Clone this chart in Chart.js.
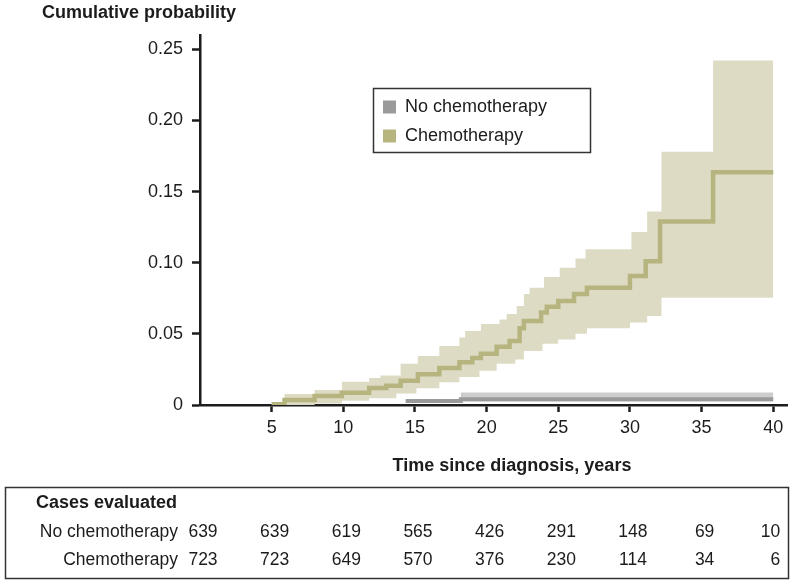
<!DOCTYPE html>
<html>
<head>
<meta charset="utf-8">
<script src="https://cdn.jsdelivr.net/npm/chart.js@4.4.1/dist/chart.umd.min.js"></script>
<style>
html, body { margin: 0; padding: 0; background: #fff; }
#wrap { position: relative; width: 792px; height: 584px; }
</style>
</head>
<body>
<div id="wrap"><canvas id="kmChart" width="792" height="584"></canvas></div>
<script>
// Chemotherapy: cumulative probability (step function) and 95% band
const chemoEstYears = [5.0, 5.9, 8.0, 9.9, 11.8, 13.0, 14.0, 15.2, 16.7, 18.1, 19.0, 19.6, 20.7, 21.6, 22.3, 22.6, 23.8, 24.2, 25.0, 26.1, 27.0, 30.0, 31.1, 32.1, 35.8, 40.0];
const chemoEst = [0.0005, 0.0035, 0.0063, 0.0086, 0.012, 0.0135, 0.017, 0.0216, 0.026, 0.030, 0.033, 0.036, 0.041, 0.045, 0.054, 0.059, 0.065, 0.069, 0.073, 0.078, 0.0824, 0.0906, 0.101, 0.129, 0.1636, 0.1636];

const chemoUpperYears = [5.0, 5.9, 8.0, 9.9, 11.8, 12.6, 14.0, 15.2, 16.7, 18.1, 18.5, 19.6, 20.9, 21.4, 22.1, 22.6, 23.0, 24.0, 25.1, 26.2, 26.9, 30.1, 31.2, 32.2, 35.8, 40.0];
const chemoUpper = [0.002, 0.0077, 0.0105, 0.0164, 0.019, 0.0207, 0.029, 0.0345, 0.0415, 0.0475, 0.052, 0.057, 0.060, 0.064, 0.0695, 0.078, 0.0824, 0.090, 0.0964, 0.103, 0.1095, 0.1215, 0.136, 0.178, 0.242, 0.242];

const chemoLowerYears = [5.0, 8.0, 9.9, 11.8, 13.7, 15.1, 16.7, 18.1, 19.5, 20.7, 22.0, 22.6, 23.9, 25.0, 26.2, 27.0, 30.0, 31.2, 32.2, 40.0];
const chemoLower = [0, 0.001, 0.003, 0.0047, 0.008, 0.0117, 0.016, 0.0197, 0.024, 0.029, 0.032, 0.038, 0.043, 0.046, 0.050, 0.054, 0.058, 0.0625, 0.0754, 0.0754];

// No chemotherapy
const noChemoYears = [14.35, 18.2, 40.0];
const noChemoEst = [0.0028, 0.0041, 0.0041];
const noChemoLower = [0.0015, 0.0025, 0.0025];
const noChemoUpper = [0.0035, 0.0088, 0.0088];

// Axes and table
const xTicks = [5, 10, 15, 20, 25, 30, 35, 40];
const yTicks = [0, 0.05, 0.10, 0.15, 0.20, 0.25];
const tableYears = [0, 5, 10, 15, 20, 25, 30, 35, 40];
const casesNoChemo = [639, 639, 619, 565, 426, 291, 148, 69, 10];
const casesChemo = [723, 723, 649, 570, 376, 230, 114, 34, 6];

const seriesNames = ['No chemotherapy', 'Chemotherapy'];

const toPoints = (xs, ys) => xs.map((x, i) => ({ x: x, y: ys[i] }));

const FONT = '"Liberation Sans", Arial, Helvetica, sans-serif';
const INK = '#1c1c1c';
const chemoLine = '#b7b57f';
const chemoBand = '#dedbc4';
const greyLine = '#9a9a9a';
const greyBand = '#cdcdcd';

Chart.defaults.font.family = FONT;
Chart.defaults.color = INK;

// Draws axis titles, the legend box and the "cases evaluated" table
const extrasPlugin = {
    id: 'extras',
    afterDraw(chart) {
        const ctx = chart.ctx;
        const xScale = chart.scales.x;
        ctx.save();
        ctx.fillStyle = INK;
        ctx.textBaseline = 'middle';

        // y title
        ctx.font = 'bold 18px ' + FONT;
        ctx.textAlign = 'left';
        ctx.fillText('Cumulative probability', 42, 13);

        // x title
        ctx.textAlign = 'center';
        ctx.fillText('Time since diagnosis, years', 512, 466);

        // legend
        ctx.strokeStyle = '#333';
        ctx.lineWidth = 1.5;
        ctx.strokeRect(373.5, 88.5, 217, 64);
        ctx.font = '18px ' + FONT;
        ctx.textAlign = 'left';
        const swatches = [greyLine, chemoLine];
        [107, 136].forEach((y, i) => {
            ctx.fillStyle = swatches[i];
            ctx.fillRect(383, y - 6.5, 13, 13);
            ctx.fillStyle = INK;
            ctx.fillText(seriesNames[i], 405, y);
        });

        // table
        ctx.strokeRect(5.5, 487.5, 783, 91);
        ctx.font = 'bold 18px ' + FONT;
        ctx.fillText('Cases evaluated', 36, 503);
        ctx.font = '17.5px ' + FONT;
        const rows = [casesNoChemo, casesChemo];
        [532, 560].forEach((y, r) => {
            ctx.textAlign = 'right';
            ctx.fillText(seriesNames[r], 178, y);
            rows[r].forEach((n, i) => {
                const px = xScale.getPixelForValue(tableYears[i]);
                if (i === tableYears.length - 1) {
                    ctx.textAlign = 'right';
                    ctx.fillText(String(n), px + 7, y);
                } else {
                    ctx.textAlign = 'center';
                    ctx.fillText(String(n), px + 3, y);
                }
            });
        });
        ctx.restore();
    }
};

const ctx = document.getElementById('kmChart').getContext('2d');
const chart = new Chart(ctx, {
    type: 'line',
    data: {
        datasets: [
            {
                label: 'Chemotherapy',
                data: toPoints(chemoEstYears, chemoEst),
                borderColor: chemoLine,
                borderWidth: 4.5,
                stepped: 'before',
                fill: false
            },
            {
                label: 'No chemotherapy',
                data: toPoints(noChemoYears, noChemoEst),
                borderColor: greyLine,
                borderWidth: 4,
                stepped: 'before',
                fill: false
            },
            {
                label: 'chemo upper',
                data: toPoints(chemoUpperYears, chemoUpper),
                borderWidth: 0,
                borderColor: 'rgba(0,0,0,0)',
                backgroundColor: chemoBand,
                stepped: 'before',
                fill: '+1'
            },
            {
                label: 'chemo lower',
                data: toPoints(chemoLowerYears, chemoLower),
                borderWidth: 0,
                borderColor: 'rgba(0,0,0,0)',
                stepped: 'before',
                fill: false
            },
            {
                label: 'no chemo upper',
                data: toPoints(noChemoYears, noChemoUpper),
                borderWidth: 0,
                borderColor: 'rgba(0,0,0,0)',
                backgroundColor: greyBand,
                stepped: 'before',
                fill: '+1'
            },
            {
                label: 'no chemo lower',
                data: toPoints(noChemoYears, noChemoLower),
                borderWidth: 0,
                borderColor: 'rgba(0,0,0,0)',
                stepped: 'before',
                fill: false
            }
        ]
    },
    options: {
        responsive: false,
        animation: false,
        devicePixelRatio: 1,
        layout: {
            padding: { top: 35, right: 4.4, bottom: 149, left: 0 }
        },
        elements: {
            point: { radius: 0, hoverRadius: 0 },
            line: { tension: 0, borderCapStyle: 'butt', borderJoinStyle: 'miter' }
        },
        plugins: {
            legend: { display: false },
            tooltip: { enabled: false },
            title: { display: false }
        },
        scales: {
            x: {
                type: 'linear',
                min: 0,
                max: 41,
                afterBuildTicks: scale => { scale.ticks = xTicks.map(v => ({ value: v })); },
                afterFit: scale => { scale.height = 30; },
                grid: { drawOnChartArea: false, drawTicks: true, tickLength: 7, tickWidth: 2.5, tickColor: INK },
                border: { display: true, color: INK, width: 2.5 },
                ticks: {
                    padding: 5,
                    maxRotation: 0,
                    autoSkip: false,
                    font: { size: 18 },
                    color: INK
                }
            },
            y: {
                type: 'linear',
                min: 0,
                max: 0.26,
                afterBuildTicks: scale => { scale.ticks = yTicks.map(v => ({ value: v })); },
                afterFit: scale => { scale.width = 200; },
                grid: { drawOnChartArea: false, drawTicks: true, tickLength: 8, tickWidth: 2.5, tickColor: INK },
                border: { display: true, color: INK, width: 2.5 },
                ticks: {
                    padding: 9,
                    autoSkip: false,
                    font: { size: 18 },
                    color: INK,
                    callback: v => (v === 0 ? '0' : v.toFixed(2))
                }
            }
        }
    },
    plugins: [extrasPlugin]
});
</script>
</body>
</html>
